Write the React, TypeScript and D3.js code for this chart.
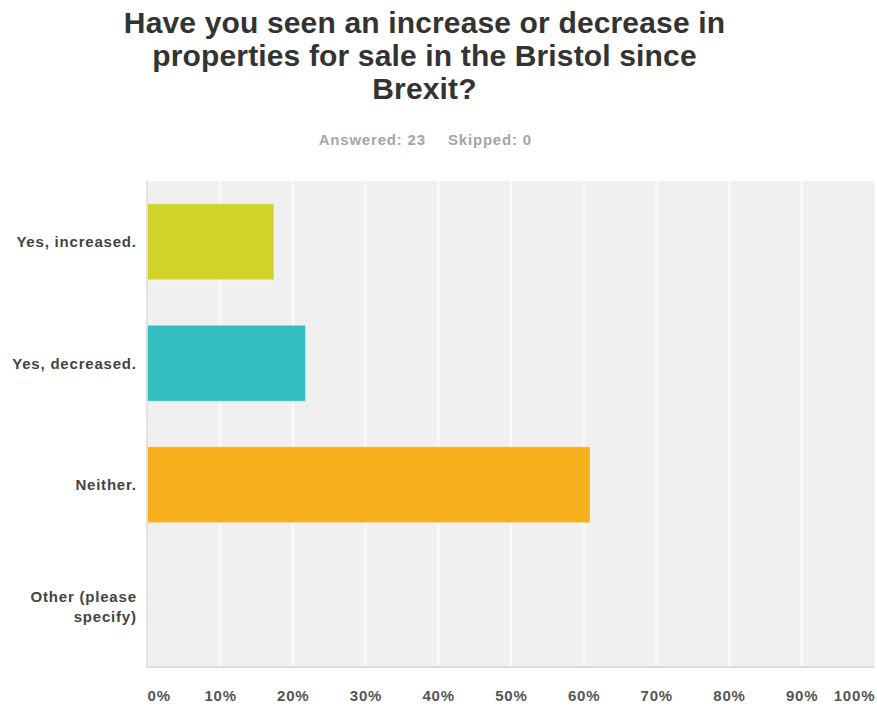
import React from "react";
import * as d3 from "d3";

const categories = ["Yes, increased.", "Yes, decreased.", "Neither.", "Other (please specify)"];
const categoryLines = [["Yes, increased."], ["Yes, decreased."], ["Neither."], ["Other (please", "specify)"]];
const values = [0.1739, 0.2174, 0.6087, 0];
const barColors = ["#CFD32A", "#33BEC0", "#F6B01E", "#9A6FB0"];
const xTicks = [0, 0.1, 0.2, 0.3, 0.4, 0.5, 0.6, 0.7, 0.8, 0.9, 1.0];
const titleLines = ["Have you seen an increase or decrease in", "properties for sale in the Bristol since", "Brexit?"];
const answered = 23;
const skipped = 0;

const W = 877;
const H = 706;
const left = 147.5;
const right = 874.5;
const top = 181;
const bottom = 667;
const FONT = "'Liberation Sans', Arial, sans-serif";
const LS = 0.8;

export default function App() {
  const x = d3.scaleLinear().domain([0, 1]).range([left, right]);
  const y = d3
    .scaleBand<string>()
    .domain(categories)
    .range([top, bottom])
    .paddingInner(0.375)
    .paddingOuter(0.1875);
  const fmt = d3.format(".0%");

  return (
    <svg width={W} height={H} style={{ position: "absolute", left: 0, top: 0, background: "#fff" }} fontFamily={FONT}>
      {titleLines.map((t, i) => (
        <text key={i} x={424.5} y={33 + i * 33} textAnchor="middle" fontSize={30} fontWeight="bold" fill="#333" letterSpacing={0.15}>
          {t}
        </text>
      ))}
      <text x={425 + LS} y={145} textAnchor="end" fontSize={15} fontWeight="bold" fill="#a5a5a5" letterSpacing={LS}>
        {`Answered: ${answered}`}
      </text>
      <text x={448} y={145} textAnchor="start" fontSize={15} fontWeight="bold" fill="#a5a5a5" letterSpacing={LS}>
        {`Skipped: ${skipped}`}
      </text>

      <rect x={left - 1.5} y={top} width={right - left + 1.5} height={bottom - top} fill="#f0f0f0" />
      {xTicks.slice(1, -1).map((t) => (
        <line key={t} x1={x(t)} x2={x(t)} y1={top} y2={bottom} stroke="#fafafa" strokeWidth={2} />
      ))}
      <line x1={left - 0.5} x2={left - 0.5} y1={top} y2={bottom + 1} stroke="#e2e2e2" strokeWidth={2} />
      <line x1={left - 1.5} x2={right} y1={bottom} y2={bottom} stroke="#dcdcdc" strokeWidth={2} />

      {categories.map((c, i) =>
        values[i] > 0 ? (
          <rect
            key={c}
            x={x(0)}
            y={y(c)}
            width={x(values[i]) - x(0)}
            height={y.bandwidth()}
            fill={barColors[i]}
            stroke="#ffffff"
            strokeOpacity={0.35}
            strokeWidth={1}
          />
        ) : null
      )}

      {categories.map((c, i) => {
        const lines = categoryLines[i];
        const cy = (y(c) as number) + y.bandwidth() / 2;
        const lh = 20;
        return (
          <text key={c} textAnchor="end" fontSize={15} fontWeight="bold" fill="#444" letterSpacing={LS}>
            {lines.map((l, j) => (
              <tspan key={j} x={136 + LS} y={cy + 5.5 + (j - (lines.length - 1) / 2) * lh}>
                {l}
              </tspan>
            ))}
          </text>
        );
      })}

      {xTicks.map((t, i) => {
        const anchor = i === 0 ? "start" : i === xTicks.length - 1 ? "end" : "middle";
        const dx = anchor === "end" ? LS : anchor === "middle" ? LS / 2 : 0;
        return (
          <text
            key={t}
            x={x(t) + dx}
            y={701}
            textAnchor={anchor}
            fontSize={15}
            fontWeight="bold"
            fill="#555"
            letterSpacing={LS}
          >
            {fmt(t)}
          </text>
        );
      })}
    </svg>
  );
}
